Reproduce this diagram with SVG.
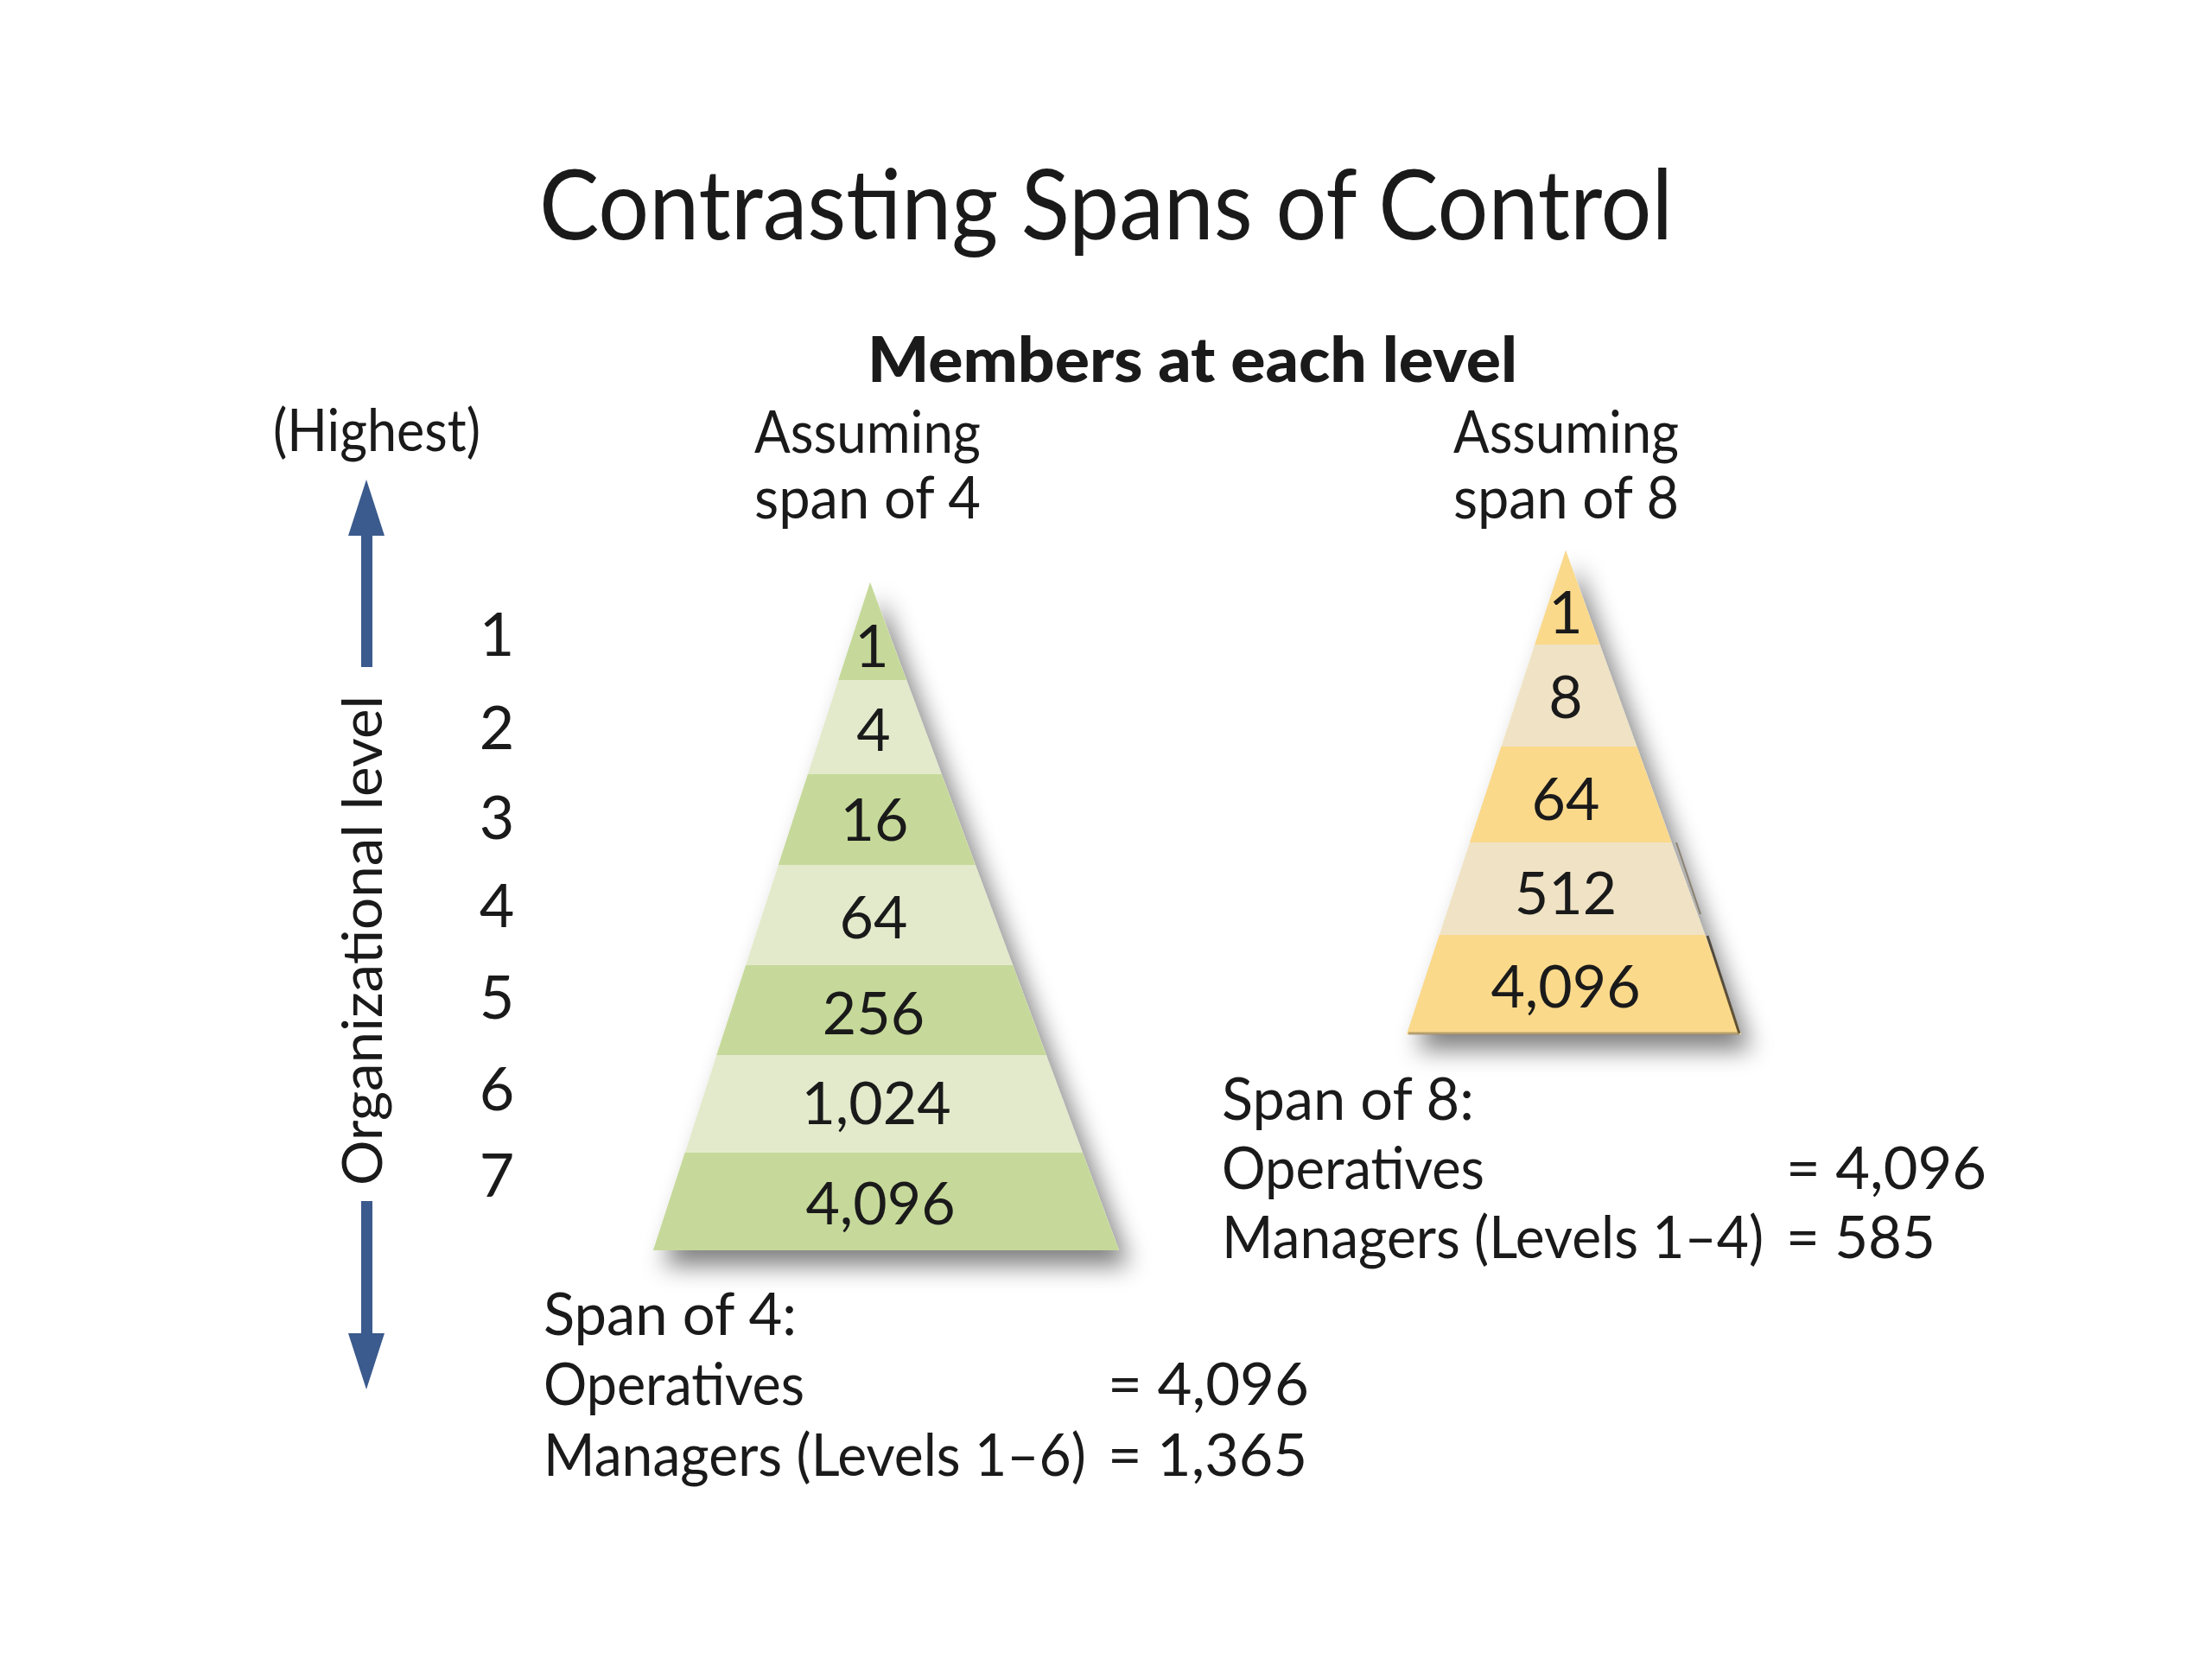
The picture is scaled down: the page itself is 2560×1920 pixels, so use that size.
<svg xmlns="http://www.w3.org/2000/svg" width="2560" height="1920" viewBox="0 0 2560 1920">
<style>
  .t { font-family: Lato, "Open Sans", "Liberation Sans", sans-serif; fill: #1a1a1a; }
  .num { font-size: 68px; text-anchor: middle; }
  .lvl { font-size: 70px; text-anchor: middle; }
  .body { font-size: 68px; }
  .gd { fill: #c6d99a; }
  .gl { fill: #e3eacc; }
  .yd { fill: #fad98b; }
  .yl { fill: #f0e3c5; }
  .arrow { fill: #3b5a8d; }
</style>
<defs>
  <filter id="shadow" x="-25%" y="-25%" width="160%" height="160%">
    <feGaussianBlur in="SourceAlpha" stdDeviation="14"/>
    <feOffset dx="12" dy="18" result="b"/>
    <feComponentTransfer><feFuncA type="linear" slope="0.5"/></feComponentTransfer>
    <feMerge><feMergeNode/><feMergeNode in="SourceGraphic"/></feMerge>
  </filter>
  <clipPath id="clipG"><polygon points="1007,674 756,1447 1295,1447"/></clipPath>
  <clipPath id="clipY"><polygon points="1812,637 1628,1197 2015,1197"/></clipPath>
</defs>
<rect width="2560" height="1920" fill="#ffffff"/>

<g id="title">
  <text class="t" x="1280" y="277" font-size="112" text-anchor="middle" textLength="1312" lengthAdjust="spacingAndGlyphs" fill="#000">Contrasting Spans of Control</text>
</g>

<g id="header">
  <text class="t" x="1004" y="442" font-size="72" font-weight="900" textLength="752" lengthAdjust="spacingAndGlyphs">Members at each level</text>
</g>

<g id="highest">
  <text class="t body" x="316" y="522" textLength="240" lengthAdjust="spacingAndGlyphs">(Highest)</text>
</g>

<g id="label-span4">
  <text class="t body" x="873" y="524" textLength="262" lengthAdjust="spacingAndGlyphs">Assuming</text>
  <text class="t body" x="873" y="600" textLength="262" lengthAdjust="spacingAndGlyphs">span of 4</text>
</g>
<g id="label-span8">
  <text class="t body" x="1682" y="524" textLength="261" lengthAdjust="spacingAndGlyphs">Assuming</text>
  <text class="t body" x="1682" y="600" textLength="261" lengthAdjust="spacingAndGlyphs">span of 8</text>
</g>

<g id="org-level-axis">
  <text class="t" transform="translate(442,1372) rotate(-90)" x="0" y="0" font-size="64" textLength="567" lengthAdjust="spacingAndGlyphs">Organizational level</text>
</g>

<g id="connectors">
  <polygon class="arrow" points="424,555 445,620 431,620 431,772 418,772 418,620 403,620"/>
  <polygon class="arrow" points="424,1608 445,1543 431,1543 431,1390 418,1390 418,1543 403,1543"/>
</g>

<g id="level-numbers">
  <text class="t lvl" x="575" y="759">1</text>
  <text class="t lvl" x="575" y="867">2</text>
  <text class="t lvl" x="575" y="971">3</text>
  <text class="t lvl" x="575" y="1073">4</text>
  <text class="t lvl" x="575" y="1179">5</text>
  <text class="t lvl" x="575" y="1285">6</text>
  <text class="t lvl" x="575" y="1385">7</text>
</g>

<g id="pyramid-span4">
  <g filter="url(#shadow)">
    <polygon class="gl" points="1007,674 756,1447 1295,1447"/>
  </g>
  <g clip-path="url(#clipG)">
    <rect class="gd" x="740" y="660" width="580" height="127"/>
    <rect class="gd" x="740" y="896" width="580" height="105"/>
    <rect class="gd" x="740" y="1117" width="580" height="104"/>
    <rect class="gd" x="740" y="1334" width="580" height="113"/>
  </g>
  <text class="t num" x="1009" y="772">1</text>
  <text class="t num" x="1011" y="869">4</text>
  <text class="t num" x="1012" y="973">16</text>
  <text class="t num" x="1011" y="1086">64</text>
  <text class="t num" x="1011" y="1197">256</text>
  <text class="t num" x="1014" y="1301">1,024</text>
  <text class="t num" x="1019" y="1417">4,096</text>
</g>

<g id="pyramid-span8">
  <g filter="url(#shadow)">
    <polygon class="yl" points="1812,637 1628,1197 2015,1197"/>
  </g>
  <g clip-path="url(#clipY)">
    <rect class="yd" x="1610" y="620" width="420" height="126"/>
    <rect class="yd" x="1610" y="864" width="420" height="111"/>
    <rect class="yd" x="1610" y="1082" width="420" height="115"/>
  </g>
  <line x1="1940" y1="975" x2="1968" y2="1058" stroke="#5a4a2a" stroke-width="2" opacity="0.5"/>
  <line x1="1976" y1="1083" x2="2013" y2="1196" stroke="#3a3020" stroke-width="3" opacity="0.8"/>
  <line x1="1630" y1="1196" x2="2013" y2="1196" stroke="#8a7a5a" stroke-width="3" opacity="0.6"/>
  <text class="t num" x="1812" y="733">1</text>
  <text class="t num" x="1812" y="831">8</text>
  <text class="t num" x="1812" y="949">64</text>
  <text class="t num" x="1812" y="1058">512</text>
  <text class="t num" x="1812" y="1166">4,096</text>
</g>

<g id="summary-span4">
  <text class="t body" x="629" y="1545" textLength="293" lengthAdjust="spacingAndGlyphs">Span of 4:</text>
  <text class="t body" x="629" y="1626" textLength="302" lengthAdjust="spacingAndGlyphs">Operatives</text>
  <text class="t body" x="1282" y="1626" textLength="233" lengthAdjust="spacingAndGlyphs">= 4,096</text>
  <text class="t body" x="629" y="1708" textLength="628" lengthAdjust="spacingAndGlyphs">Managers (Levels 1–6)</text>
  <text class="t body" x="1282" y="1708" textLength="231" lengthAdjust="spacingAndGlyphs">= 1,365</text>
</g>

<g id="summary-span8">
  <text class="t body" x="1414" y="1296" textLength="292" lengthAdjust="spacingAndGlyphs">Span of 8:</text>
  <text class="t body" x="1414" y="1376" textLength="304" lengthAdjust="spacingAndGlyphs">Operatives</text>
  <text class="t body" x="2067" y="1376" textLength="232" lengthAdjust="spacingAndGlyphs">= 4,096</text>
  <text class="t body" x="1414" y="1456" textLength="627" lengthAdjust="spacingAndGlyphs">Managers (Levels 1–4)</text>
  <text class="t body" x="2067" y="1456" textLength="173" lengthAdjust="spacingAndGlyphs">= 585</text>
</g>
</svg>
